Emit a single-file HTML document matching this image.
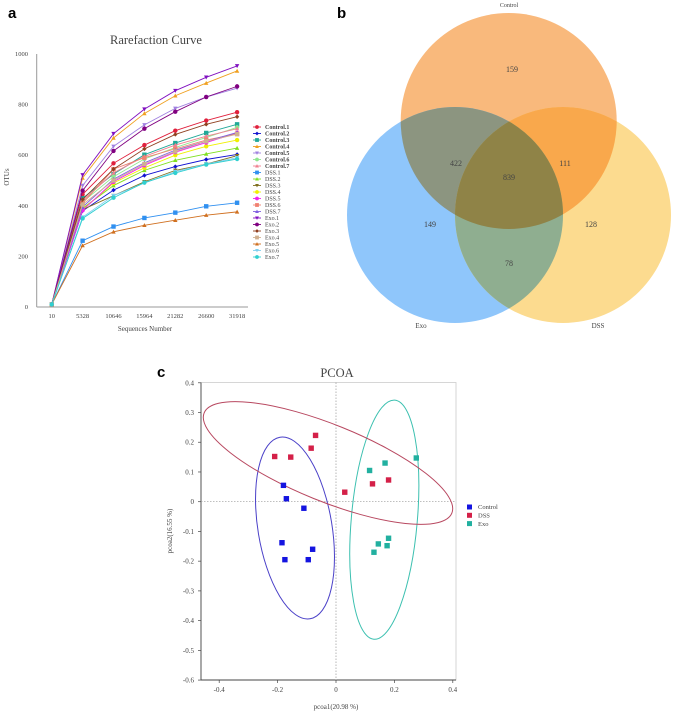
<!DOCTYPE html>
<html><head><meta charset="utf-8"><style>
html,body{margin:0;padding:0;background:#fff;width:676px;height:713px;overflow:hidden}
svg{display:block}
text{font-family:"Liberation Serif","DejaVu Serif",serif;fill:#444}
.pl{font-family:"Liberation Sans",sans-serif;font-weight:bold;font-size:15px;fill:#000}
</style></head><body>
<svg id="root" width="676" height="713" viewBox="0 0 676 713">
<text class="pl" x="8" y="18">a</text>
<text class="pl" x="337" y="18">b</text>
<text class="pl" x="157" y="377">c</text>
<g id="rare"></g>
<g id="venn"></g>
<g id="pcoa"></g>
</svg>
<script>
// ---- Rarefaction data ----
const rareCategories = ["10","5328","10646","15964","21282","26600","31918"];
const rareYTicks = [0,200,400,600,800,1000];
const seriesNames = ["Control.1","Control.2","Control.3","Control.4","Control.5","Control.6","Control.7","DSS.1","DSS.2","DSS.3","DSS.4","DSS.5","DSS.6","DSS.7","Exo.1","Exo.2","Exo.3","Exo.4","Exo.5","Exo.6","Exo.7"];
const seriesColors = ["#e0203c","#1010d0","#20a898","#f0a020","#a080e0","#90e890","#f08090","#3090f0","#80e020","#807020","#f0f000","#f020f0","#f08070","#8060e0","#8010c0","#800080","#904020","#d0b090","#d07020","#80d0f0","#30d0d0"];
const seriesShapes = ["c","d","s","tu","td","c","tu","s","tu","td","c","c","s","tu","td","c","d","s","tu","td","c"];
const control1 = [10,445,568,640,697,737,770];
const control2 = [10,380,462,520,555,583,603];
const control3 = [10,430,525,602,648,688,722];
const control4 = [10,510,668,765,835,885,933];
const control5 = [10,480,635,720,785,830,865];
const control6 = [10,415,515,585,630,670,710];
const control7 = [10,420,530,595,640,675,705];
const dss1 = [10,262,318,352,373,398,412];
const dss2 = [10,390,480,540,580,605,628];
const dss3 = [10,385,440,495,540,565,598];
const dss4 = [10,385,490,550,600,635,660];
const dss5 = [10,382,495,560,612,650,688];
const dss6 = [10,410,545,590,625,660,685];
const dss7 = [10,395,505,570,620,655,690];
const exo1 = [10,522,685,782,855,908,953];
const exo2 = [10,460,617,705,772,830,872];
const exo3 = [10,425,545,625,682,722,752];
const exo4 = [10,405,500,565,615,655,683];
const exo5 = [10,243,297,323,343,363,376];
const exo6 = [10,355,440,490,535,565,590];
const exo7 = [10,350,432,492,530,563,585];
const seriesValues = [control1,control2,control3,control4,control5,control6,control7,dss1,dss2,dss3,dss4,dss5,dss6,dss7,exo1,exo2,exo3,exo4,exo5,exo6,exo7];
// ---- Venn data ----
const vennSets = ["Control","Exo","DSS"];
const vennCounts = {C:159,E:149,D:128,CE:422,CD:111,ED:78,CED:839};
// ---- PCOA data ----
const pcoaGroups = ["Control","DSS","Exo"];
const pcoaColors = ["#1414e0","#d42048","#22b0a0"];
const controlX = [-0.18,-0.17,-0.11,-0.185,-0.175,-0.095,-0.08];
const controlY = [0.055,0.01,-0.022,-0.138,-0.195,-0.195,-0.16];
const dssX = [-0.21,-0.155,-0.085,-0.07,0.03,0.125,0.18];
const dssY = [0.152,0.15,0.18,0.223,0.032,0.06,0.073];
const exoX = [0.115,0.168,0.275,0.13,0.145,0.175,0.18];
const exoY = [0.105,0.13,0.147,-0.17,-0.142,-0.148,-0.123];
const pcoaXTicks = [-0.4,-0.2,0,0.2,0.4];
const pcoaYTicks = [0.4,0.3,0.2,0.1,0,-0.1,-0.2,-0.3,-0.4,-0.5,-0.6];

const NS="http://www.w3.org/2000/svg";
function mk(parent,tag,attrs,txt){const e=document.createElementNS(NS,tag);for(const k in attrs)e.setAttribute(k,attrs[k]);if(txt!==undefined)e.textContent=txt;parent.appendChild(e);return e;}
function marker(g,shape,x,y,r,col){
  let e;
  if(shape==="c") e=mk(g,"circle",{cx:x,cy:y,r:r,fill:col});
  else if(shape==="s") e=mk(g,"rect",{x:x-r,y:y-r,width:2*r,height:2*r,fill:col});
  else if(shape==="d") e=mk(g,"polygon",{points:`${x},${y-r} ${x+r},${y} ${x},${y+r} ${x-r},${y}`,fill:col});
  else if(shape==="tu") e=mk(g,"polygon",{points:`${x},${y-r} ${x+r},${y+r*0.8} ${x-r},${y+r*0.8}`,fill:col});
  else e=mk(g,"polygon",{points:`${x},${y+r} ${x+r},${y-r*0.8} ${x-r},${y-r*0.8}`,fill:col});
  return e;
}
// ===== Rarefaction =====
(function(){
  const g=document.getElementById('rare');
  const xS=i=>51.7+i*30.9, yS=v=>307-v*0.253;
  let t=mk(g,"text",{x:156,y:44,"text-anchor":"middle","font-size":"12.5",fill:"#555"},"Rarefaction Curve");
  
  mk(g,"line",{x1:36.7,y1:54,x2:36.7,y2:307,stroke:"#999","stroke-width":1});
  mk(g,"line",{x1:36.7,y1:307,x2:248,y2:307,stroke:"#999","stroke-width":1});
  rareYTicks.forEach(v=>{const l=mk(g,"text",{x:28,y:yS(v)+2,"text-anchor":"end","font-size":"6.5"},v);
    });
  rareCategories.forEach((c,i)=>{const l=mk(g,"text",{x:xS(i),y:318,"text-anchor":"middle","font-size":"6.5"},c);
    });
  t=mk(g,"text",{x:145,y:331,"text-anchor":"middle","font-size":"7"},"Sequences Number");
  
  t=mk(g,"text",{x:9,y:177,"text-anchor":"middle","font-size":"7",transform:"rotate(-90 9 177)"},"OTUs");
  
  seriesValues.forEach((vals,si)=>{
    const sg=mk(g,"g",{});
    
    
    mk(sg,"polyline",{points:vals.map((v,i)=>xS(i)+","+yS(v)).join(" "),fill:"none",stroke:seriesColors[si],"stroke-width":0.9});
    vals.forEach((v,i)=>marker(sg,seriesShapes[si],xS(i),yS(v),2.2,seriesColors[si]));
    const ly=127+si*6.5;
    const lg=mk(g,"g",{});
    
    
    mk(lg,"line",{x1:253,y1:ly,x2:261,y2:ly,stroke:seriesColors[si],"stroke-width":0.9});
    marker(lg,seriesShapes[si],257,ly,1.9,seriesColors[si]);
    mk(lg,"text",{x:265,y:ly+2,"font-size":"6", "font-weight": si<7?"bold":"normal",fill:"#555"},seriesNames[si]);
  });
})();
// ===== Venn =====
(function(){
  const g=document.getElementById('venn');
  const C={x:508.7,y:121,r:108},E={x:455,y:215,r:108},D={x:563,y:215,r:108};
  const defs=mk(g,"defs",{});
  [["clipC",C],["clipE",E],["clipD",D]].forEach(([id,c])=>{const cp=mk(defs,"clipPath",{id:id});mk(cp,"circle",{cx:c.x,cy:c.y,r:c.r});});
  let e;
  e=mk(g,"circle",{cx:C.x,cy:C.y,r:C.r,fill:"#f9b97c"});
  e=mk(g,"circle",{cx:E.x,cy:E.y,r:E.r,fill:"#8fc6fb"});
  e=mk(g,"circle",{cx:D.x,cy:D.y,r:D.r,fill:"#fcdb8f"});
  const gCE=mk(g,"g",{"clip-path":"url(#clipC)"});mk(gCE,"circle",{cx:E.x,cy:E.y,r:E.r,fill:"#8c9580"});
  const gCD=mk(g,"g",{"clip-path":"url(#clipC)"});mk(gCD,"circle",{cx:D.x,cy:D.y,r:D.r,fill:"#f9a84c"});
  const gED=mk(g,"g",{"clip-path":"url(#clipE)"});mk(gED,"circle",{cx:D.x,cy:D.y,r:D.r,fill:"#8fae90"});
  const gA=mk(g,"g",{"clip-path":"url(#clipC)"});const gA2=mk(gA,"g",{"clip-path":"url(#clipE)"});mk(gA2,"circle",{cx:D.x,cy:D.y,r:D.r,fill:"#8f8347"});
  const labels=[["C",512,72],["CE",456,166],["CED",509,180],["CD",565,166],["E",430,227],["D",591,227],["ED",509,266]];
  labels.forEach(([k,x,y])=>{const t=mk(g,"text",{x:x,y:y,"text-anchor":"middle","font-size":"8",fill:"#333"},vennCounts[k]);
    });
  [["Control",509,7],["Exo",421,328],["DSS",598,328]].forEach(([n,x,y])=>{const t=mk(g,"text",{x:x,y:y,"text-anchor":"middle","font-size":n==="Control"?"6":"7",fill:"#333"},n);
    });
})();
// ===== PCOA =====
(function(){
  const g=document.getElementById('pcoa');
  const xS=v=>336+v*292, yS=v=>501.7-v*297.3;
  let t=mk(g,"text",{x:337,y:377,"text-anchor":"middle","font-size":"12.5",fill:"#444"},"PCOA");
  
  mk(g,"rect",{x:201,y:382.5,width:255,height:297.5,fill:"none",stroke:"#ccc","stroke-width":0.8});
  mk(g,"line",{x1:201,y1:382.5,x2:201,y2:680,stroke:"#444","stroke-width":0.9});
  mk(g,"line",{x1:201,y1:680,x2:456,y2:680,stroke:"#444","stroke-width":0.9});
  mk(g,"line",{x1:xS(0),y1:382.5,x2:xS(0),y2:680,stroke:"#999","stroke-width":0.7,"stroke-dasharray":"1.5,1.5"});
  mk(g,"line",{x1:201,y1:yS(0),x2:456,y2:yS(0),stroke:"#999","stroke-width":0.7,"stroke-dasharray":"1.5,1.5"});
  pcoaYTicks.forEach(v=>{mk(g,"line",{x1:198,y1:yS(v),x2:201,y2:yS(v),stroke:"#444","stroke-width":0.7});
    const l=mk(g,"text",{x:194,y:yS(v)+2.5,"text-anchor":"end","font-size":"7"},String(v));
    });
  pcoaXTicks.forEach(v=>{mk(g,"line",{x1:xS(v),y1:680,x2:xS(v),y2:683,stroke:"#444","stroke-width":0.7});
    const l=mk(g,"text",{x:xS(v),y:692,"text-anchor":"middle","font-size":"7"},String(v));
    });
  t=mk(g,"text",{x:336,y:709,"text-anchor":"middle","font-size":"7"},"pcoa1(20.98 %)");
  
  t=mk(g,"text",{x:172,y:531,"text-anchor":"middle","font-size":"7",transform:"rotate(-90 172 531)"},"pcoa2(16.55 %)");
  
  // ellipses
  let e;
  e=mk(g,"ellipse",{cx:295,cy:528,rx:37,ry:92,transform:"rotate(-9.4 295 528)",fill:"none",stroke:"#4a40c8","stroke-width":1});
  
  e=mk(g,"ellipse",{cx:384.3,cy:519.7,rx:33,ry:120,transform:"rotate(5 384.3 519.7)",fill:"none",stroke:"#3cc0b0","stroke-width":1});
  
  e=mk(g,"ellipse",{cx:328,cy:463,rx:133.6,ry:38.3,transform:"rotate(22 328 463)",fill:"none",stroke:"#b84860","stroke-width":1});
  
  const grpX=[controlX,dssX,exoX], grpY=[controlY,dssY,exoY];
  grpX.forEach((xs,gi)=>{xs.forEach((xv,i)=>{
    const p=mk(g,"rect",{x:xS(xv)-2.7,y:yS(grpY[gi][i])-2.7,width:5.4,height:5.4,fill:pcoaColors[gi]});
    
    
  });});
  pcoaGroups.forEach((n,i)=>{const y=507+i*8.3;
    const lg=mk(g,"g",{});
    
    
    mk(lg,"rect",{x:467,y:y-2.5,width:5,height:5,fill:pcoaColors[i]});
    mk(lg,"text",{x:478,y:y+2.2,"font-size":"6.5",fill:"#333"},n);});
})();
</script>
</body></html>
